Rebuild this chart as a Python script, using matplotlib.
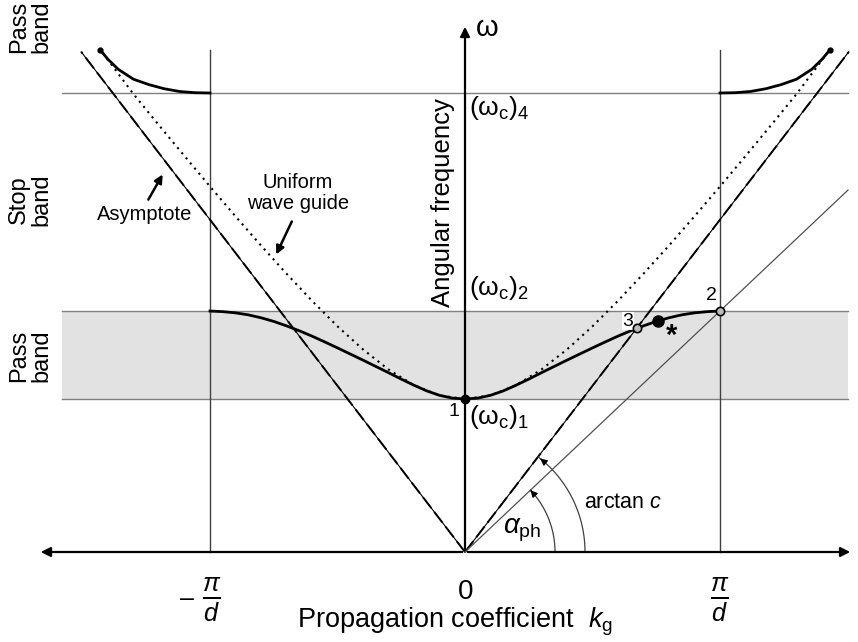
#!/usr/bin/env python3
# Dispersion diagram of a periodic wave guide: pass/stop bands, asymptote,
# uniform wave guide curve and phase / light-line angles.
import numpy as np
import matplotlib.pyplot as plt

plt.rcParams["font.family"] = ["Liberation Sans", "DejaVu Sans"]
plt.rcParams["mathtext.fontset"] = "custom"
plt.rcParams["mathtext.rm"] = "Liberation Sans"
plt.rcParams["mathtext.it"] = "Liberation Sans:italic"

# ---- values (k in units of pi/d, omega in units of (wc)1)
w_c1, w_c2, w_c4 = 1.0, 1.575, 3.0
k_edge = 1.0  # pi/d

# first pass band (right half, mirrored for k < 0)
k_band = [0.0, 0.05, 0.10, 0.15, 0.20, 0.25, 0.30, 0.35, 0.40, 0.45, 0.50,
          0.55, 0.60, 0.65, 0.70, 0.75, 0.80, 0.85, 0.90, 0.95, 1.00]
w_band = [1.000, 1.006, 1.024, 1.053, 1.090, 1.130, 1.172, 1.213, 1.254, 1.294,
          1.334, 1.373, 1.411, 1.446, 1.478, 1.507, 1.531, 1.550, 1.563, 1.571, 1.575]

# upper pass band branch (right, mirrored for left)
k_upper = [1.00, 1.06, 1.12, 1.18, 1.24, 1.30, 1.36, 1.40, 1.43]
w_upper = [3.000, 3.002, 3.010, 3.028, 3.055, 3.090, 3.155, 3.220, 3.280]

# uniform wave guide (dotted)
k_unif = [0.0, 0.1, 0.2, 0.3, 0.4, 0.5, 0.6, 0.7, 0.8, 0.9, 1.0, 1.1, 1.2, 1.3, 1.42]
w_unif = [1.000, 1.023, 1.090, 1.193, 1.324, 1.475, 1.642, 1.819, 2.003, 2.194,
          2.389, 2.588, 2.789, 2.993, 3.260]

c_asym = 2.172          # slope of asymptote (light line)
k_asym_end = 1.505
k_phase_end = 1.502     # thin line through point 2

pt1 = (0.0, 1.0)
pt3 = (0.675, 1.466)
pt_star = (0.757, 1.51)
pt2 = (1.0, 1.575)

# ---- geometry of the canvas (pixels)
W, H = 858, 642
OX, OY = 465, 552
SX, SY = 255.0, 153.0


def P(px, py):
    """pixel position -> data coords"""
    return (px - OX) / SX, (OY - py) / SY


fig = plt.figure(figsize=(W / 100, H / 100), dpi=100)
ax = fig.add_axes([0, 0, 1, 1])
ax.set_xlim(-OX / SX, (W - OX) / SX)
ax.set_ylim((OY - H) / SY, OY / SY)
ax.axis("off")

xl, _ = P(62, 0)
xr, _ = P(848, 0)

# grey pass band
ax.fill_between([xl, xr], w_c1, w_c2, color="#e2e2e2", lw=0, zorder=0)
for w in (w_c1, w_c2, w_c4):
    ax.plot([xl, xr], [w, w], color="#808080", lw=1.0, zorder=1)

_, ytop = P(0, 50)
for k in (-k_edge, k_edge):
    ax.plot([k, k], [0, ytop], color="#404040", lw=1.0, zorder=1)

# axes with arrows
xa0, _ = P(38, 0)
xa1, _ = P(853, 0)
ax.annotate("", xy=(xa1, 0), xytext=(0, 0),
            arrowprops=dict(arrowstyle="-|>", color="black", lw=1.6, mutation_scale=14))
ax.annotate("", xy=(xa0, 0), xytext=(0, 0),
            arrowprops=dict(arrowstyle="-|>", color="black", lw=1.6, mutation_scale=14))
_, wa1 = P(0, 24)
ax.annotate("", xy=(0, wa1), xytext=(0, 0),
            arrowprops=dict(arrowstyle="-|>", color="black", lw=1.6, mutation_scale=14))

# asymptotes (light lines)
for s in (-1, 1):
    ax.plot([0, s * k_asym_end], [0, c_asym * k_asym_end], color="black", lw=0.8, zorder=2)
    ax.plot([0, s * k_asym_end], [0, c_asym * k_asym_end], color="black", lw=1.4,
            ls=(0, (7, 2.5)), zorder=2)

# thin phase line through point 2
ax.plot([0, k_phase_end], [0, w_c2 * k_phase_end], color="#505050", lw=0.9, zorder=2)

# uniform wave guide
kk = np.array(k_unif)
ww = np.array(w_unif)
ax.plot(np.r_[-kk[::-1], kk[1:]], np.r_[ww[::-1], ww[1:]], color="black", lw=1.5,
        ls=(0, (1, 2.2)), zorder=2)

# first pass band
kb = np.array(k_band)
wb = np.array(w_band)
ax.plot(np.r_[-kb[::-1], kb[1:]], np.r_[wb[::-1], wb[1:]], color="black", lw=2.0, zorder=3)

# upper band branches
ku = np.array(k_upper)
wu = np.array(w_upper)
for s in (-1, 1):
    ax.plot(s * ku, wu, color="black", lw=2.0, zorder=3)
    ax.plot(s * ku[-1], wu[-1], "o", color="black", ms=3.5, zorder=4)

# marked points
ax.plot(*pt1, "o", color="black", ms=6, zorder=5)
ax.plot(*pt3, "o", mfc="#bbbbbb", mec="black", mew=1.2, ms=6, zorder=5)
ax.plot(*pt2, "o", mfc="#bbbbbb", mec="black", mew=1.2, ms=6, zorder=5)
ax.plot(*pt_star, "o", color="black", ms=8, zorder=5)

ax.text(*P(454, 411), "1", fontsize=14, ha="center", va="center")
ax.text(*P(628, 321), "3", fontsize=14, ha="center", va="center",
        bbox=dict(facecolor="white", edgecolor="none", pad=0.5), zorder=4)
ax.text(*P(711, 296), "2", fontsize=14, ha="center", va="center")
ax.text(*P(672, 336), "*", fontsize=21, fontweight="bold", ha="center", va="center")


# angle arcs (drawn round in pixel space)
def arc(radius, angle_deg):
    t = np.radians(np.linspace(0, angle_deg, 80))
    xs = radius * np.cos(t) / SX
    ys = radius * np.sin(t) / SY
    ax.plot(xs, ys, color="#404040", lw=0.9, zorder=2)
    ax.annotate("", xy=(xs[-1], ys[-1]), xytext=(xs[-6], ys[-6]),
                arrowprops=dict(arrowstyle="-|>", color="black", lw=0.9, mutation_scale=10))


arc(90, np.degrees(np.arctan(w_c2 * SY / SX)))
arc(120, np.degrees(np.arctan(c_asym * SY / SX)))

ax.text(*P(522, 530), r"$\alpha_{\mathrm{ph}}$", fontsize=20, ha="center", va="center")
ax.text(*P(584, 503), r"arctan $c$", fontsize=15.5, ha="left", va="center")

# band labels
band_kw = dict(fontsize=17, rotation=90, ha="center", va="center", linespacing=1.0)
ax.text(*P(30, 27), "Pass\nband", **band_kw)
ax.text(*P(30, 200), "Stop\nband", **band_kw)
ax.text(*P(30, 356), "Pass\nband", **band_kw)

# axis-related labels
ax.text(*P(443, 203), "Angular frequency", fontsize=18.5, rotation=90,
        ha="center", va="center")
ax.text(*P(475, 28), r"$\mathrm{\omega}$", fontsize=21, ha="left", va="center")
ax.text(*P(469, 108), r"$(\mathrm{\omega_c})_4$", fontsize=19, ha="left", va="center")
ax.text(*P(469, 288), r"$(\mathrm{\omega_c})_2$", fontsize=19, ha="left", va="center")
ax.text(*P(469, 417), r"$(\mathrm{\omega_c})_1$", fontsize=19, ha="left", va="center")

ax.text(*P(466, 592), "0", fontsize=20, ha="center", va="center")
ax.text(*P(720, 600), r"$\frac{\pi}{d}$", fontsize=26, ha="center", va="center")
ax.text(*P(212, 600), r"$\frac{\pi}{d}$", fontsize=26, ha="center", va="center")
ax.text(*P(187, 599), "\u2013", fontsize=18, ha="center", va="center")
ax.text(*P(455, 622), r"Propagation coefficient  $k_{\mathrm{g}}$", fontsize=19.5,
        ha="center", va="center")

# annotations with arrows
ax.text(*P(145, 215), "Asymptote", fontsize=14.5, ha="center", va="center")
ax.annotate("", xy=P(164, 172), xytext=P(147, 202),
            arrowprops=dict(arrowstyle="-|>", color="black", lw=1.8, mutation_scale=12))
ax.text(*P(298, 193), "Uniform\nwave guide", fontsize=14.5, ha="center", va="center",
        linespacing=1.1)
ax.annotate("", xy=P(275, 257), xytext=P(293, 219),
            arrowprops=dict(arrowstyle="-|>", color="black", lw=1.8, mutation_scale=12))

fig.savefig("out.png", dpi=100)
